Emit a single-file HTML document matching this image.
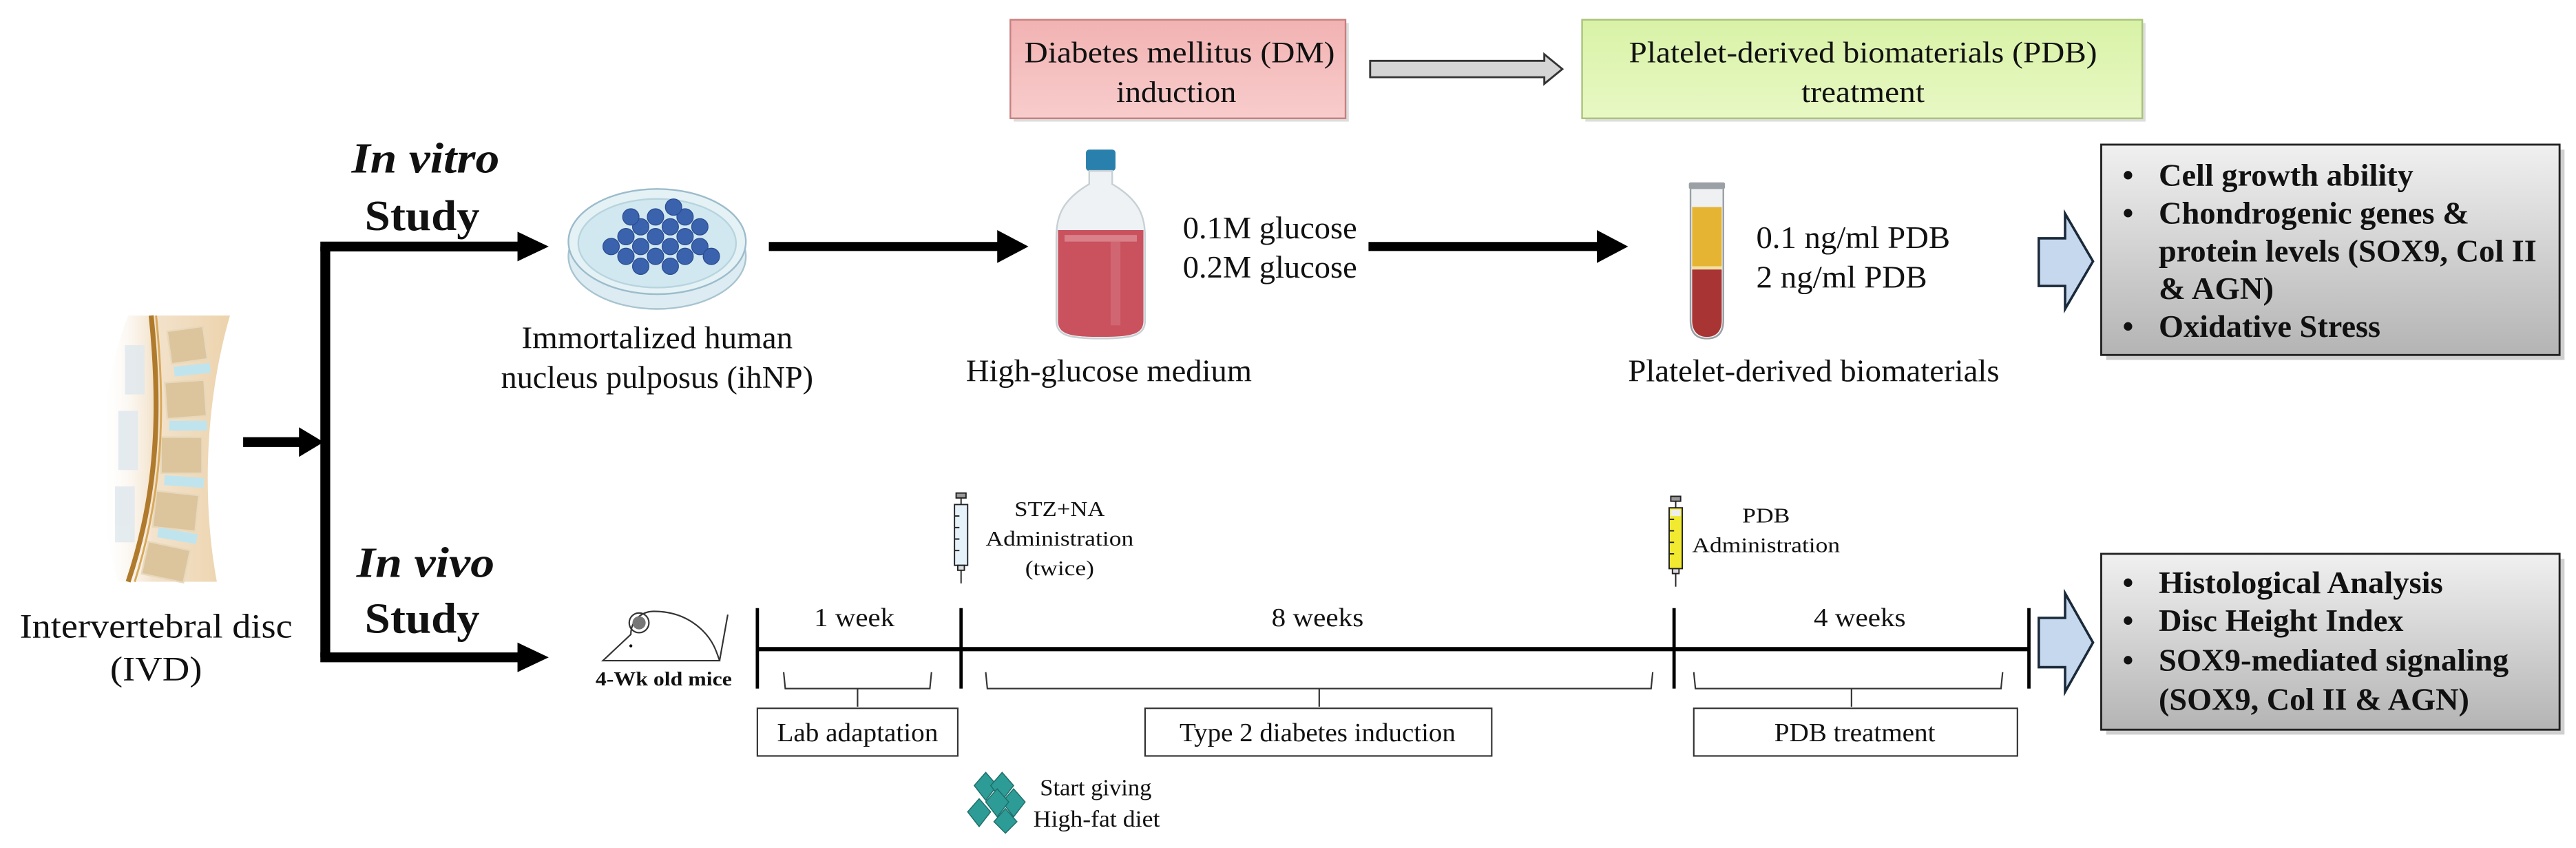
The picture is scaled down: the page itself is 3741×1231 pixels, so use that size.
<!DOCTYPE html>
<html><head><meta charset="utf-8"><style>
html,body{margin:0;padding:0;background:#fff}
svg{display:block}
text{font-family:"Liberation Serif","Times New Roman",serif;fill:#111}
</style></head><body>
<svg width="3741" height="1231" viewBox="0 0 1568 516" preserveAspectRatio="none" xmlns="http://www.w3.org/2000/svg">
<defs>
<linearGradient id="gr" x1="0" y1="0" x2="0" y2="1"><stop offset="0" stop-color="#f2b2b2"/><stop offset="1" stop-color="#f8cccc"/></linearGradient>
<linearGradient id="gg" x1="0" y1="0" x2="0" y2="1"><stop offset="0" stop-color="#d8f2a6"/><stop offset="1" stop-color="#e8f8c4"/></linearGradient>
<linearGradient id="gy" x1="0" y1="0" x2="0" y2="1"><stop offset="0" stop-color="#f0f0f0"/><stop offset="1" stop-color="#b4b4b4"/></linearGradient>
<linearGradient id="gs" x1="0" y1="0" x2="1" y2="0"><stop offset="0" stop-color="#fff" stop-opacity="0"/><stop offset="0.4" stop-color="#f0dcc0"/><stop offset="1" stop-color="#e8c898"/></linearGradient>
</defs>

<!-- top boxes -->
<rect x="617" y="14" width="204" height="60" fill="#bbb" opacity="0.5"/>
<rect x="615" y="12" width="204" height="60" fill="url(#gr)" stroke="#c77f7f" stroke-width="1"/>
<text x="718" y="38" font-size="18" text-anchor="middle" textLength="189" lengthAdjust="spacingAndGlyphs">Diabetes mellitus (DM)</text>
<text x="716" y="62" font-size="18" text-anchor="middle" textLength="73" lengthAdjust="spacingAndGlyphs">induction</text>
<path d="M834,37 L940,37 L940,33 L951,42 L940,51 L940,47 L834,47 Z" fill="#d4d4d4" stroke="#333" stroke-width="1.2"/>
<rect x="965" y="14" width="341" height="60" fill="#bbb" opacity="0.5"/>
<rect x="963" y="12" width="341" height="60" fill="url(#gg)" stroke="#a9c27a" stroke-width="1"/>
<text x="1134" y="38" font-size="18" text-anchor="middle" textLength="285" lengthAdjust="spacingAndGlyphs">Platelet-derived biomaterials (PDB)</text>
<text x="1134" y="62" font-size="18" text-anchor="middle" textLength="75" lengthAdjust="spacingAndGlyphs">treatment</text>

<!-- spine -->
<g>
<path d="M78,192 C60,240 55,300 72,354 L132,354 C122,300 126,240 140,192 Z" fill="url(#gs)" opacity="0.8"/>
<g fill="#dcc49c" stroke="#e8d8bc" stroke-width="1">
<rect x="103" y="200" width="22" height="20" transform="rotate(-8 114 210)"/>
<rect x="101" y="232" width="24" height="22" transform="rotate(-4 113 243)"/>
<rect x="98" y="266" width="25" height="22"/>
<rect x="94" y="300" width="26" height="22" transform="rotate(6 107 311)"/>
<rect x="88" y="332" width="26" height="20" transform="rotate(12 101 342)"/>
</g>
<g fill="#bfe4ee">
<rect x="106" y="222" width="22" height="6" transform="rotate(-6 117 225)"/>
<rect x="103" y="256" width="23" height="6"/>
<rect x="100" y="290" width="24" height="6" transform="rotate(4 112 293)"/>
<rect x="96" y="323" width="24" height="6" transform="rotate(10 108 326)"/>
</g>
<g fill="#dfe8ee" opacity="0.8">
<rect x="76" y="210" width="12" height="30"/><rect x="72" y="250" width="12" height="36"/><rect x="70" y="296" width="12" height="34"/>
</g>
<path d="M92,192 C98,250 96,300 78,354" fill="none" stroke="#b07a2c" stroke-width="3"/>
<path d="M95,192 C101,250 99,300 82,354" fill="none" stroke="#d8a85a" stroke-width="1.2"/>
</g>
<text x="95" y="388" font-size="21" text-anchor="middle" textLength="166" lengthAdjust="spacingAndGlyphs">Intervertebral disc</text>
<text x="95" y="414" font-size="21" text-anchor="middle" textLength="56" lengthAdjust="spacingAndGlyphs">(IVD)</text>

<!-- branching arrows -->
<path d="M148,269 L185,269" stroke="#000" stroke-width="6"/>
<path d="M182,260 L197,269 L182,278 Z" fill="#000"/>
<path d="M198,150 L198,400" stroke="#000" stroke-width="6"/>
<path d="M195,150 L318,150 M195,400 L318,400" stroke="#000" stroke-width="6"/>
<path d="M315,141 L334,150 L315,159 Z M315,391 L334,400 L315,409 Z" fill="#000"/>
<text x="259" y="105" font-size="26" font-weight="bold" font-style="italic" text-anchor="middle" textLength="90" lengthAdjust="spacingAndGlyphs">In vitro</text>
<text x="257" y="140" font-size="26" font-weight="bold" text-anchor="middle" textLength="70" lengthAdjust="spacingAndGlyphs">Study</text>
<text x="259" y="351" font-size="26" font-weight="bold" font-style="italic" text-anchor="middle" textLength="84" lengthAdjust="spacingAndGlyphs">In vivo</text>
<text x="257" y="385" font-size="26" font-weight="bold" text-anchor="middle" textLength="70" lengthAdjust="spacingAndGlyphs">Study</text>

<!-- petri dish -->
<ellipse cx="400" cy="156" rx="54" ry="32" fill="#dcecf2" stroke="#a8c4d0"/>
<ellipse cx="400" cy="147" rx="54" ry="32" fill="#e4f2f6" stroke="#9cbccb"/>
<ellipse cx="400" cy="148" rx="48" ry="27" fill="#d2e8f0" stroke="#b8d4de"/>
<g fill="#3a62ad" stroke="#2a4c90" stroke-width="0.5">
<circle cx="372" cy="150" r="5"/><circle cx="381" cy="144" r="5"/><circle cx="381" cy="156" r="5"/><circle cx="390" cy="138" r="5"/><circle cx="390" cy="150" r="5"/><circle cx="390" cy="162" r="5"/><circle cx="399" cy="144" r="5"/><circle cx="399" cy="156" r="5"/><circle cx="399" cy="132" r="5"/><circle cx="408" cy="138" r="5"/><circle cx="408" cy="150" r="5"/><circle cx="408" cy="162" r="5"/><circle cx="417" cy="132" r="5"/><circle cx="417" cy="144" r="5"/><circle cx="417" cy="156" r="5"/><circle cx="426" cy="150" r="5"/><circle cx="426" cy="138" r="5"/><circle cx="384" cy="132" r="5"/><circle cx="410" cy="126" r="5"/><circle cx="433" cy="156" r="5"/>
</g>
<text x="400" y="212" font-size="19" text-anchor="middle" textLength="165" lengthAdjust="spacingAndGlyphs">Immortalized human</text>
<text x="400" y="236" font-size="19" text-anchor="middle" textLength="190" lengthAdjust="spacingAndGlyphs">nucleus pulposus (ihNP)</text>

<path d="M468,150 L610,150" stroke="#000" stroke-width="5.5"/>
<path d="M607,140 L626,150 L607,160 Z" fill="#000"/>

<!-- bottle -->
<rect x="661" y="91" width="18" height="13" rx="2" fill="#2a80ad"/>
<path d="M663,104 L677,104 L677,112 C694,122 697,132 697,145 L697,195 C697,204 690,206 670,206 C650,206 643,204 643,195 L643,145 C643,132 646,122 663,112 Z" fill="#eef2f4" stroke="#c8d0d4"/>
<path d="M644,140 L696,140 L696,195 C696,203 690,205 670,205 C650,205 644,203 644,195 Z" fill="#c9525e"/>
<rect x="648" y="143" width="44" height="4" fill="#e6a0a6" opacity="0.6"/>
<rect x="676" y="146" width="6" height="52" fill="#d87a84" opacity="0.5"/>
<text x="720" y="145" font-size="19" textLength="106" lengthAdjust="spacingAndGlyphs">0.1M glucose</text>
<text x="720" y="169" font-size="19" textLength="106" lengthAdjust="spacingAndGlyphs">0.2M glucose</text>
<text x="675" y="232" font-size="19" text-anchor="middle" textLength="174" lengthAdjust="spacingAndGlyphs">High-glucose medium</text>

<path d="M833,150 L975,150" stroke="#000" stroke-width="5.5"/>
<path d="M972,140 L991,150 L972,160 Z" fill="#000"/>

<!-- tube -->
<path d="M1029,114 L1049,114 L1049,195 C1049,203 1045,206 1039,206 C1033,206 1029,203 1029,195 Z" fill="#eef0f2" stroke="#9aa0a4"/>
<rect x="1028" y="111" width="22" height="4" rx="1" fill="#9aa0a6"/>
<rect x="1030" y="126" width="18" height="37" fill="#e4b432"/>
<rect x="1030" y="162" width="18" height="2" fill="#f2e0a0"/>
<path d="M1030,164 L1048,164 L1048,195 C1048,202 1044,205 1039,205 C1034,205 1030,202 1030,195 Z" fill="#a83434"/>
<text x="1069" y="151" font-size="19" textLength="118" lengthAdjust="spacingAndGlyphs">0.1 ng/ml PDB</text>
<text x="1069" y="175" font-size="19" textLength="104" lengthAdjust="spacingAndGlyphs">2 ng/ml PDB</text>
<text x="1104" y="232" font-size="19" text-anchor="middle" textLength="226" lengthAdjust="spacingAndGlyphs">Platelet-derived biomaterials</text>

<!-- result boxes -->
<path d="M1241,145 L1257,145 L1257,130 L1274,159 L1257,188 L1257,174 L1241,174 Z" fill="#c6d8ee" stroke="#1a2a3a" stroke-width="1.5"/>
<rect x="1282" y="91" width="279" height="128" fill="#888" opacity="0.4"/>
<rect x="1279" y="88" width="279" height="128" fill="url(#gy)" stroke="#222" stroke-width="1.2"/>
<g font-size="19" font-weight="bold">
<text x="1292" y="113">•</text><text x="1314" y="113" textLength="155" lengthAdjust="spacingAndGlyphs">Cell growth ability</text>
<text x="1292" y="136">•</text><text x="1314" y="136" textLength="189" lengthAdjust="spacingAndGlyphs">Chondrogenic genes &amp;</text>
<text x="1314" y="159" textLength="230" lengthAdjust="spacingAndGlyphs">protein levels (SOX9, Col II</text>
<text x="1314" y="182" textLength="70" lengthAdjust="spacingAndGlyphs">&amp; AGN)</text>
<text x="1292" y="205">•</text><text x="1314" y="205" textLength="135" lengthAdjust="spacingAndGlyphs">Oxidative Stress</text>
</g>
<path d="M1241,376 L1257,376 L1257,361 L1274,391 L1257,421 L1257,406 L1241,406 Z" fill="#c6d8ee" stroke="#1a2a3a" stroke-width="1.5"/>
<rect x="1282" y="340" width="279" height="107" fill="#888" opacity="0.4"/>
<rect x="1279" y="337" width="279" height="107" fill="url(#gy)" stroke="#222" stroke-width="1.2"/>
<g font-size="19" font-weight="bold">
<text x="1292" y="361">•</text><text x="1314" y="361" textLength="173" lengthAdjust="spacingAndGlyphs">Histological Analysis</text>
<text x="1292" y="384">•</text><text x="1314" y="384" textLength="149" lengthAdjust="spacingAndGlyphs">Disc Height Index</text>
<text x="1292" y="408">•</text><text x="1314" y="408" textLength="213" lengthAdjust="spacingAndGlyphs">SOX9-mediated signaling</text>
<text x="1314" y="432" textLength="189" lengthAdjust="spacingAndGlyphs">(SOX9, Col II &amp; AGN)</text>
</g>

<!-- mouse -->
<g fill="none" stroke="#333" stroke-width="0.9">
<path d="M367,402 L384,386 C384,378 390,372 398,372 C410,372 420,376 428,384 C434,390 436,396 438,402 Z"/>
<circle cx="389" cy="379" r="6"/>
<path d="M438,402 L443,374"/>
</g>
<circle cx="389" cy="379" r="4" fill="#777"/>
<circle cx="384" cy="393" r="0.9" fill="#000"/>
<text x="404" y="417" font-size="12" font-weight="bold" text-anchor="middle" textLength="83" lengthAdjust="spacingAndGlyphs">4-Wk old mice</text>

<!-- timeline -->
<path d="M461,395 L1235,395" stroke="#000" stroke-width="2.6"/>
<g stroke="#000" stroke-width="2">
<path d="M461,370 L461,419 M585,370 L585,419 M1019,370 L1019,419 M1235,370 L1235,419"/>
</g>
<g fill="none" stroke="#333" stroke-width="0.9">
<path d="M477,409 L478,419 L566,419 L567,409 M522,419 L522,430"/>
<path d="M600,409 L601,419 L1005,419 L1006,409 M803,419 L803,430"/>
<path d="M1031,409 L1032,419 L1218,419 L1219,409 M1127,419 L1127,430"/>
<rect x="461" y="431" width="122" height="29"/>
<rect x="697" y="431" width="211" height="29"/>
<rect x="1031" y="431" width="197" height="29"/>
</g>
<text x="520" y="381" font-size="16" text-anchor="middle" textLength="49" lengthAdjust="spacingAndGlyphs">1 week</text>
<text x="802" y="381" font-size="16" text-anchor="middle" textLength="56" lengthAdjust="spacingAndGlyphs">8 weeks</text>
<text x="1132" y="381" font-size="16" text-anchor="middle" textLength="56" lengthAdjust="spacingAndGlyphs">4 weeks</text>
<text x="522" y="451" font-size="16" text-anchor="middle" textLength="98" lengthAdjust="spacingAndGlyphs">Lab adaptation</text>
<text x="802" y="451" font-size="16" text-anchor="middle" textLength="168" lengthAdjust="spacingAndGlyphs">Type 2 diabetes induction</text>
<text x="1129" y="451" font-size="16" text-anchor="middle" textLength="98" lengthAdjust="spacingAndGlyphs">PDB treatment</text>

<!-- syringes -->
<g stroke="#222" stroke-width="0.8">
<rect x="582" y="300" width="6" height="3" fill="#999"/><path d="M585,303 L585,307" fill="none"/>
<rect x="581" y="307" width="8" height="37" fill="#e6f2fa"/>
<rect x="583" y="344" width="4" height="3" fill="#ddd"/><path d="M585,347 L585,355" fill="none"/>
<path d="M581,314 L584,314 M581,321 L584,321 M581,328 L584,328 M581,335 L584,335" fill="none"/>
<rect x="1017" y="302" width="6" height="3" fill="#999"/><path d="M1020,305 L1020,309" fill="none"/>
<rect x="1016" y="309" width="8" height="37" fill="#f2ea30"/>
<rect x="1018" y="346" width="4" height="3" fill="#ddd"/><path d="M1020,349 L1020,357" fill="none"/>
<path d="M1016,316 L1019,316 M1016,323 L1019,323 M1016,330 L1019,330 M1016,337 L1019,337" fill="none"/>
</g>
<rect x="1017" y="310" width="6" height="4" fill="#eee"/>
<text x="645" y="314" font-size="13" text-anchor="middle" textLength="55" lengthAdjust="spacingAndGlyphs">STZ+NA</text>
<text x="645" y="332" font-size="13" text-anchor="middle" textLength="90" lengthAdjust="spacingAndGlyphs">Administration</text>
<text x="645" y="350" font-size="13" text-anchor="middle" textLength="42" lengthAdjust="spacingAndGlyphs">(twice)</text>
<text x="1075" y="318" font-size="13" text-anchor="middle" textLength="29" lengthAdjust="spacingAndGlyphs">PDB</text>
<text x="1075" y="336" font-size="13" text-anchor="middle" textLength="90" lengthAdjust="spacingAndGlyphs">Administration</text>

<!-- diet icon -->
<g fill="#2e9c96" stroke="#1c6e6a" stroke-width="0.6">
<path d="M600,470 L607,478 L600,487 L593,478 Z"/><path d="M610,470 L617,478 L610,487 L603,478 Z"/>
<path d="M617,480 L624,488 L617,497 L610,488 Z"/><path d="M607,480 L614,488 L607,497 L600,488 Z"/>
<path d="M596,486 L603,494 L596,503 L589,494 Z"/><path d="M612,492 L619,500 L612,507 L605,500 Z"/>
</g>
<text x="633" y="484" font-size="14" textLength="68" lengthAdjust="spacingAndGlyphs">Start giving</text>
<text x="629" y="503" font-size="14" textLength="77" lengthAdjust="spacingAndGlyphs">High-fat diet</text>
</svg>
</body></html>
